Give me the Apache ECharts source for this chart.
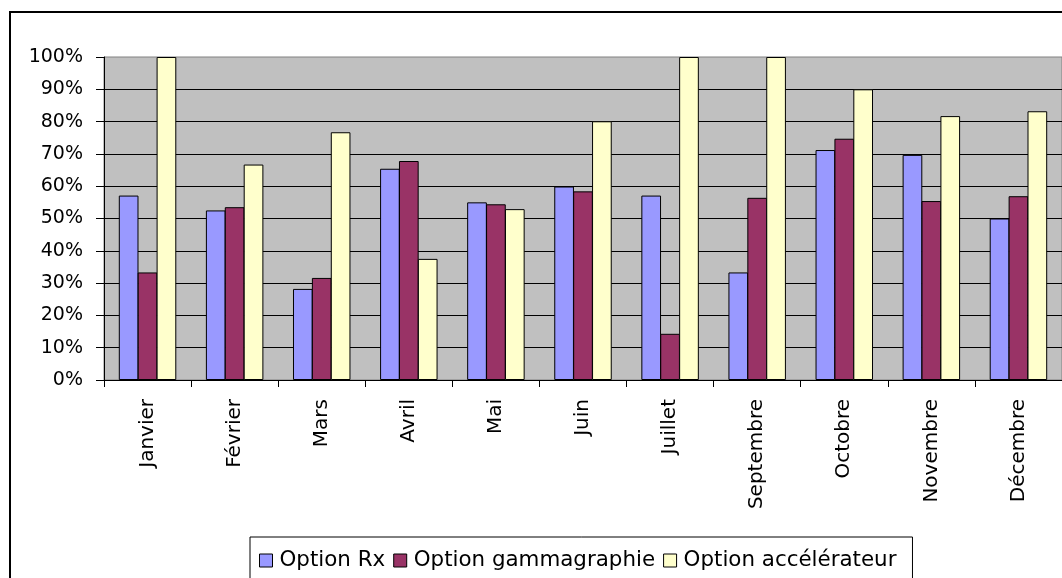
<!DOCTYPE html>
<html>
<head>
<meta charset="utf-8">
<script src="https://cdn.jsdelivr.net/npm/echarts@6/dist/echarts.min.js"></script>
<style>
  html, body { margin: 0; padding: 0; background: #fff; }
  #chart { width: 1062px; height: 578px; }
</style>
</head>
<body>
<div id="chart"></div>
<script>
// Monthly share per option (fraction of 1)
const categories = ['Janvier', 'Février', 'Mars', 'Avril', 'Mai', 'Juin', 'Juillet', 'Septembre', 'Octobre', 'Novembre', 'Décembre'];
const seriesNames = ['Option Rx', 'Option gammagraphie', 'Option accélérateur'];
const optionRx = [0.571, 0.525, 0.282, 0.654, 0.550, 0.599, 0.571, 0.333, 0.712, 0.697, 0.500];
const optionGamma = [0.333, 0.535, 0.316, 0.678, 0.544, 0.584, 0.143, 0.564, 0.747, 0.554, 0.569];
const optionAccel = [1.000, 0.667, 0.767, 0.375, 0.529, 0.801, 1.000, 1.000, 0.900, 0.817, 0.832];

const FONT = 'DejaVu Sans';
const colors = ['#9999FF', '#993366', '#FFFFCC'];

const chart = echarts.init(document.getElementById('chart'), null, { renderer: 'canvas' });

function barSeries(name, data, color) {
  return {
    name: name,
    type: 'bar',
    data: data,
    barGap: '-4%',
    barCategoryGap: '34%',
    itemStyle: { color: color, borderColor: '#000', borderWidth: 1 },
    emphasis: { disabled: true }
  };
}

chart.setOption({
  animation: false,
  backgroundColor: '#fff',
  graphic: [{
    type: 'rect',
    shape: { x: 10, y: 12, width: 1200, height: 700 },
    style: { fill: 'none', stroke: '#000', lineWidth: 2 },
    silent: true,
    z: 100
  }],
  grid: {
    left: 104,
    top: 57,
    width: 960,
    height: 323,
    show: true,
    backgroundColor: '#C0C0C0',
    borderColor: '#808080',
    borderWidth: 1
  },
  legend: {
    data: seriesNames,
    left: 250,
    top: 537,
    orient: 'horizontal',
    itemWidth: 13,
    itemHeight: 13,
    itemGap: 8,
    padding: [13, 16, 40, 9],
    borderColor: '#000',
    borderWidth: 1,
    backgroundColor: '#fff',
    icon: 'rect',
    itemStyle: { borderColor: '#000', borderWidth: 1 },
    textStyle: { fontFamily: FONT, fontSize: 21.4, color: '#000', padding: [0, 0, 0, 2] }
  },
  xAxis: {
    type: 'category',
    data: categories,
    boundaryGap: true,
    axisLine: { show: true, lineStyle: { color: '#000', width: 1 } },
    axisTick: { show: true, length: 7, alignWithLabel: false, lineStyle: { color: '#000', width: 1 } },
    axisLabel: {
      rotate: 90,
      margin: 19,
      interval: 0,
      fontFamily: FONT,
      fontSize: 20,
      color: '#000'
    },
    splitLine: { show: false }
  },
  yAxis: {
    type: 'value',
    min: 0,
    max: 1,
    interval: 0.1,
    axisLine: { show: true, lineStyle: { color: '#000', width: 1 } },
    axisTick: { show: true, length: 8, lineStyle: { color: '#000', width: 1 } },
    axisLabel: {
      margin: 21,
      fontFamily: FONT,
      fontSize: 19,
      color: '#000',
      formatter: v => Math.round(v * 100) + '%'
    },
    splitLine: { show: true, showMaxLine: false, lineStyle: { color: '#000', width: 1 } }
  },
  series: [
    barSeries(seriesNames[0], optionRx, colors[0]),
    barSeries(seriesNames[1], optionGamma, colors[1]),
    barSeries(seriesNames[2], optionAccel, colors[2])
  ]
});
</script>
</body>
</html>
